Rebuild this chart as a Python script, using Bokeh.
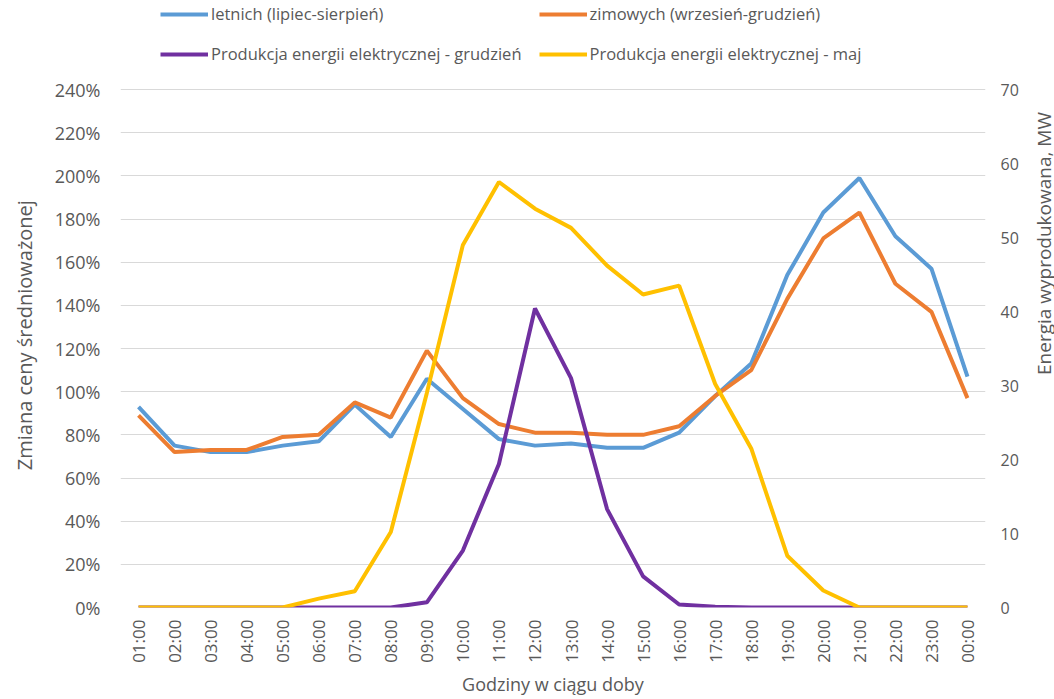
import math
from bokeh.plotting import figure
from bokeh.layouts import row
from bokeh.models import (Range1d, LinearAxis, Legend, LegendItem, FixedTicker,
                          NumeralTickFormatter, FactorRange, Label)
from bokeh.embed import file_html
from bokeh.resources import INLINE

hours = ["01:00", "02:00", "03:00", "04:00", "05:00", "06:00", "07:00", "08:00",
         "09:00", "10:00", "11:00", "12:00", "13:00", "14:00", "15:00", "16:00",
         "17:00", "18:00", "19:00", "20:00", "21:00", "22:00", "23:00", "00:00"]

letnich_pct = [93, 75, 72, 72, 75, 77, 94, 79, 106, 92, 78, 75, 76, 74, 74, 81,
               98, 113, 154, 183, 199, 172, 157, 107]
zimowych_pct = [89, 72, 73, 73, 79, 80, 95, 88, 119, 97, 85, 81, 81, 80, 80, 84,
                98, 110, 143, 171, 183, 150, 137, 97]
prod_grudzien = [0, 0, 0, 0, 0, 0, 0, 0, 0.7, 7.7, 19.4, 40.4, 31.0, 13.3, 4.2, 0.4,
                 0.1, 0, 0, 0, 0, 0, 0, 0]
prod_maj = [0, 0, 0, 0, 0, 1.2, 2.2, 10.2, 29, 49, 57.5, 53.9, 51.3, 46.2, 42.3, 43.5,
            30.2, 21.5, 7.0, 2.3, 0, 0, 0, 0]

left_ticks = [0, 0.2, 0.4, 0.6, 0.8, 1.0, 1.2, 1.4, 1.6, 1.8, 2.0, 2.2, 2.4]
right_ticks = [0, 10, 20, 30, 40, 50, 60, 70]

labels = ["letnich (lipiec-sierpień)", "zimowych (wrzesień-grudzień)",
          "Produkcja energii elektrycznej - grudzień", "Produkcja energii elektrycznej - maj"]
colors = ["#5B9BD5", "#ED7D31", "#7030A0", "#FFC000"]
right_title = "Energia wyprodukowana, MW"

FONT = "Open Sans"
GRAY = "#595959"

# The frame reaches up to the top of the picture so that the legend (drawn
# above the gridded area) is not clipped; the gridded area is 518px of 607px.
PLOT_H = 518
FRAME_H = 607
scale = FRAME_H / PLOT_H

p = figure(frame_width=865, frame_height=FRAME_H, x_range=FactorRange(*hours),
           y_range=Range1d(0, left_ticks[-1] * scale), output_backend="svg",
           toolbar_location=None,
           min_border_left=120, min_border_right=45, min_border_top=0,
           min_border_bottom=92)
p.extra_y_ranges = {"mw": Range1d(0, right_ticks[-1] * scale)}
p.outline_line_color = None
p.background_fill_color = "white"
p.border_fill_color = "white"

p.xgrid.grid_line_color = None
p.ygrid.grid_line_color = "#d9d9d9"
p.ygrid.grid_line_width = 1
p.ygrid.ticker = FixedTicker(ticks=left_ticks)

l1 = p.line(hours, [v / 100 for v in letnich_pct], line_color=colors[0], line_width=4)
l2 = p.line(hours, [v / 100 for v in zimowych_pct], line_color=colors[1], line_width=4)
l3 = p.line(hours, prod_grudzien, line_color=colors[2], line_width=4, y_range_name="mw")
l4 = p.line(hours, prod_maj, line_color=colors[3], line_width=4, y_range_name="mw")

NB = "\u00a0"

ya = p.yaxis[0]
ya.ticker = FixedTicker(ticks=left_ticks)
ya.formatter = NumeralTickFormatter(format="0%")
ya.axis_label = "Zmiana ceny średnioważonej" + NB * 12

ra = LinearAxis(y_range_name="mw", ticker=FixedTicker(ticks=right_ticks))
p.add_layout(ra, "right")

xa = p.xaxis[0]
xa.axis_label = "Godziny w ciągu doby"
xa.major_label_orientation = math.pi / 2

for ax in [ya, ra, xa]:
    ax.axis_line_color = None
    ax.major_tick_line_color = None
    ax.minor_tick_line_color = None
    ax.major_tick_in = 0
    ax.major_tick_out = 0
    ax.minor_tick_in = 0
    ax.minor_tick_out = 0
    ax.major_label_text_font = FONT
    ax.major_label_text_color = GRAY
    ax.axis_label_text_font = FONT
    ax.axis_label_text_color = GRAY
    ax.axis_label_text_font_style = "normal"

ya.major_label_text_font_size = "18px"
ya.major_label_standoff = 20
ya.axis_label_text_font_size = "20px"
ya.axis_label_standoff = 14

ra.major_label_text_font_size = "16px"
ra.major_label_standoff = 15

xa.major_label_text_font_size = "17px"
xa.major_label_standoff = 12
xa.axis_label_text_font_size = "18px"
xa.axis_label_standoff = 6

# two columns, filled column by column: row 1 = letnich, zimowych; row 2 = grudzień, maj
order = [0, 2, 1, 3]
renderers = [l1, l2, l3, l4]
legend = Legend(items=[LegendItem(label=labels[i], renderers=[renderers[i]]) for i in order],
                ncols=2, location=(40, 542), padding=0, margin=0,
                border_line_color=None, background_fill_alpha=0,
                glyph_width=48, glyph_height=20, label_standoff=3,
                spacing=17, label_height=20,
                label_text_font=FONT, label_text_font_size="16.5px",
                label_text_color=GRAY)
p.add_layout(legend, "center")

# narrow strip on the right holding the right-axis title, reading bottom to top
p2 = figure(width=24, height=699, x_range=Range1d(0, 1), y_range=Range1d(0, 1),
            output_backend="svg", toolbar_location=None,
            x_axis_type=None, y_axis_type=None, min_border=0)
p2.outline_line_color = None
p2.background_fill_color = "white"
p2.border_fill_color = "white"
p2.add_layout(Label(x=13, y=364, x_units="screen", y_units="screen",
                    text=right_title, angle=math.pi / 2,
                    text_align="center", text_baseline="middle",
                    text_font=FONT, text_font_size="19px", text_color=GRAY))

layout = row(p, p2)
open("out.html", "w").write(file_html(layout, INLINE))
